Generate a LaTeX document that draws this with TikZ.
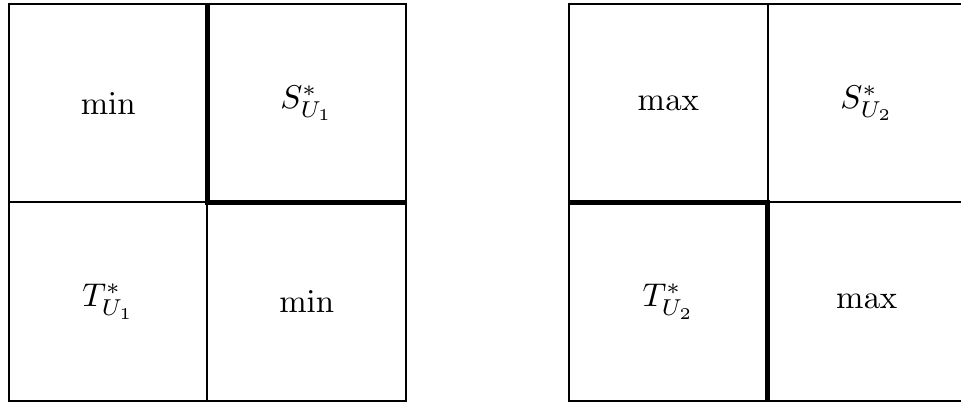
\documentclass[tikz,border=0pt]{standalone}
\begin{document}
\begin{tikzpicture}[grid/.style={line width=0.65pt},bold/.style={line width=1.5pt},every node/.style={scale=1.06}]
 \useasboundingbox (-0.102,-0.023) rectangle (10.794,4.545); \clip (-0.102,-0.023) rectangle (10.794,4.545);
 % left grid
 \draw[grid] (0,0) rectangle (4.5,4.5); \draw[grid] (2.25,0) -- (2.25,2.25) (0,2.25) -- (2.25,2.25);
 \draw[bold] (2.25,4.5) -- (2.25,2.25) -- (4.5,2.25);
 \node (minA) at (1.125,3.375) {$\min$}; \node (SA) at (3.375,3.375) {$S^*_{U_1}$};
 \node (TA) at (1.125,1.125) {$T^*_{U_1}$}; \node (minB) at (3.375,1.125) {$\min$};
 % right grid
 \begin{scope}[xshift=6.35cm]
 \draw[grid] (0,0) rectangle (4.5,4.5); \draw[grid] (2.25,4.5) -- (2.25,2.25) -- (4.5,2.25);
 \draw[bold] (0,2.25) -- (2.25,2.25) -- (2.25,0);
 \node (maxA) at (1.125,3.375) {$\max$}; \node (SB) at (3.375,3.375) {$S^*_{U_2}$};
 \node (TB) at (1.125,1.125) {$T^*_{U_2}$}; \node (maxB) at (3.375,1.125) {$\max$};
 \end{scope}
\end{tikzpicture}
\end{document}
